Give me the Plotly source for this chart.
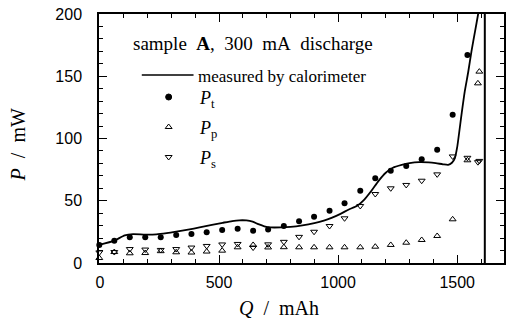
import plotly.graph_objects as go

# ---------------- data ----------------
Q = [-3, 60, 125, 190, 255, 320, 384, 448, 513, 578, 643, 706, 772, 836,
     899, 964, 1027, 1093, 1156, 1221, 1286, 1351, 1416, 1481, 1543, 1587, 1593]
P_t = [14.5, 17.9, 20.6, 20.6, 20.6, 22.5, 23.3, 24.6, 26.5, 27.6, 26.0, 27.0,
       29.7, 33.5, 37.2, 42.0, 48.0, 58.0, 68.0, 74.1, 77.9, 83.3, 91.0, 119.0,
       167.0, None, None]
P_p = [4.0, 8.8, 7.8, 8.0, 9.5, 8.6, 8.4, 9.2, 9.9, 12.6, 14.5, 12.5, 12.7,
       12.6, 12.6, 12.6, 12.6, 12.6, 13.1, 14.5, 16.3, 18.5, 21.7, 35.1, 82.5,
       144.3, 153.7]
P_s = [8.5, 8.8, 11.2, 10.8, 10.5, 11.2, 12.4, 13.7, 14.9, 15.3, 12.4, 15.0,
       17.0, 21.0, 25.1, 29.7, 35.9, 45.8, 55.4, 60.0, 62.7, 66.1, 71.2, 85.6,
       84.5, 81.0, 82.0]

Q_cal = [-3, 60, 104, 139, 190, 237, 280, 320, 370, 418, 470, 515, 555, 585,
         615, 641, 665, 690, 717, 760, 800, 850, 900, 940, 975, 1010, 1045,
         1080, 1110, 1140, 1170, 1200, 1230, 1267, 1300, 1340, 1380, 1410,
         1440, 1462, 1478, 1490, 1500, 1518, 1532, 1546, 1560, 1575, 1588, 1600]
P_cal = [14.5, 18.0, 22.2, 23.2, 22.8, 23.0, 24.0, 25.2, 26.8, 28.6, 30.6,
         32.3, 33.7, 34.3, 34.2, 33.2, 31.2, 29.5, 28.6, 28.6, 29.0, 30.2,
         32.0, 34.0, 36.5, 39.5, 43.0, 46.0, 51.0, 58.0, 66.0, 72.5, 76.5,
         78.8, 80.2, 81.0, 80.8, 80.2, 79.3, 78.8, 80.5, 84.0, 93.0, 119.0,
         138.0, 153.0, 170.0, 186.0, 200.0, 215.0]

Q_END = 1616  # end-of-discharge marker

X_TICKS = [0, 500, 1000, 1500]
Y_TICKS = [0, 50, 100, 150, 200]

# ---------------- layout helpers ----------------
W, H = 506, 324
L, R, T, B = 99, 0, 14, 61
PW, PH = W - L - R, H - T - B


def px(x):
    return (x - L) / PW


def py(y):
    return (H - B - y) / PH


SERIF = "Liberation Serif"
SANS = "Liberation Sans"
BLACK = "black"

fig = go.Figure()

fig.add_trace(go.Scatter(x=Q_cal, y=P_cal, mode="lines",
                         line=dict(color=BLACK, width=1.8, shape="spline", smoothing=0.6),
                         showlegend=False, hoverinfo="skip"))
fig.add_trace(go.Scatter(x=Q, y=P_s, mode="markers",
                         marker=dict(symbol="triangle-down-open", size=6,
                                     color=BLACK, line=dict(width=1, color=BLACK)),
                         showlegend=False, cliponaxis=False))
fig.add_trace(go.Scatter(x=Q, y=P_p, mode="markers",
                         marker=dict(symbol="triangle-up-open", size=6,
                                     color=BLACK, line=dict(width=1, color=BLACK)),
                         showlegend=False, cliponaxis=False))
fig.add_trace(go.Scatter(x=Q, y=P_t, mode="markers",
                         marker=dict(symbol="circle", size=6, color=BLACK),
                         showlegend=False, cliponaxis=False))

# legend symbols on an overlay axis in plot-fraction units
leg_rows_y = [97, 127, 157]
leg_syms = ["circle", "triangle-up-open", "triangle-down-open"]
for yy, sym in zip(leg_rows_y, leg_syms):
    fig.add_trace(go.Scatter(x=[px(169)], y=[py(yy)], xaxis="x2", yaxis="y2",
                             mode="markers",
                             marker=dict(symbol=sym, size=6, color=BLACK,
                                         line=dict(width=1, color=BLACK)),
                             showlegend=False, hoverinfo="skip"))

# vertical end line
fig.add_shape(type="line", x0=Q_END, x1=Q_END, y0=0, y1=200, xref="x", yref="y",
              line=dict(color=BLACK, width=2))
# legend line sample
fig.add_shape(type="line", x0=px(142), x1=px(194), y0=py(75), y1=py(75),
              xref="paper", yref="paper", line=dict(color=BLACK, width=1.3))

ann = []
ann.append(dict(text="sample\u00a0 <b>A</b>,\u00a0 300\u00a0 mA\u00a0 discharge",
                x=px(131), y=py(43), xanchor="left", yanchor="middle",
                font=dict(family=SERIF, size=19, color=BLACK)))
ann.append(dict(text="measured by calorimeter", x=px(196), y=py(76),
                xanchor="left", yanchor="middle",
                font=dict(family=SERIF, size=17, color=BLACK)))
for yy, sub in zip(leg_rows_y, ["t", "p", "s"]):
    ann.append(dict(text="<i>P</i><sub>%s</sub>" % sub, x=px(197), y=py(yy + 2),
                    xanchor="left", yanchor="middle",
                    font=dict(family=SERIF, size=18, color=BLACK)))
ann.append(dict(text="<i>Q</i>\u00a0 /\u00a0 mAh", x=px(280), y=py(308),
                xanchor="center", yanchor="middle",
                font=dict(family=SERIF, size=20, color=BLACK)))
ann.append(dict(text="<i>P</i>\u00a0 /\u00a0 mW", x=px(18), y=py(145),
                xanchor="center", yanchor="middle", textangle=-90,
                font=dict(family=SERIF, size=20, color=BLACK)))
for a in ann:
    a.update(xref="paper", yref="paper", showarrow=False)

axis_common = dict(showline=True, linecolor=BLACK, linewidth=1.5, mirror="allticks",
                   ticks="inside", ticklen=8, tickwidth=1.2, tickcolor=BLACK,
                   showgrid=False, zeroline=False,
                   tickfont=dict(family=SANS, size=16, color=BLACK))

fig.update_layout(
    width=W, height=H,
    margin=dict(l=L, r=R, t=T, b=B),
    paper_bgcolor="white", plot_bgcolor="white",
    showlegend=False,
    annotations=ann,
    xaxis=dict(range=[-4.2, 1696.6], tickvals=X_TICKS,
               minor=dict(dtick=100, ticklen=4, ticks="inside", tickcolor=BLACK, tickwidth=1.2),
               ticklabelstandoff=4, **axis_common),
    yaxis=dict(range=[0, 200], tickvals=Y_TICKS,
               minor=dict(dtick=10, ticklen=4, ticks="inside", tickcolor=BLACK, tickwidth=1.2),
               ticklabelstandoff=12, **axis_common),
    xaxis2=dict(range=[0, 1], overlaying="x", visible=False, domain=[0, 1]),
    yaxis2=dict(range=[0, 1], overlaying="y", visible=False, domain=[0, 1]),
)

fig.write_html("out.html")
